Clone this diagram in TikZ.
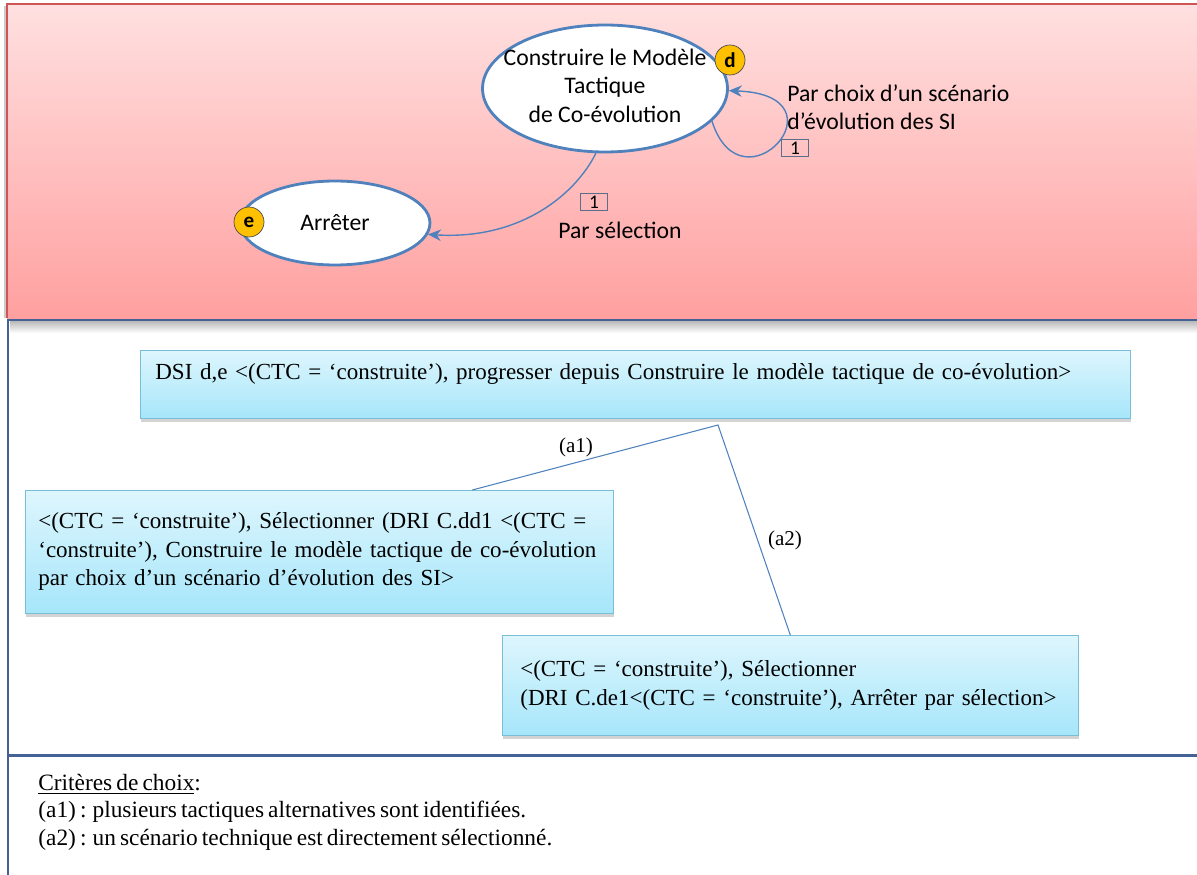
\documentclass[tikz,border=0pt]{standalone}
\usepackage{fontspec}
\setmainfont{Liberation Serif}[WordSpace=0.7]
\newfontfamily\calibri{Carlito}
\usetikzlibrary{shapes.geometric,arrows.meta,shadows,calc}

\definecolor{roseclair}{RGB}{255,224,224}
\definecolor{rosefonce}{RGB}{255,160,160}
\definecolor{rougebord}{RGB}{205,85,85}
\definecolor{bleuregle}{RGB}{68,98,150}
\definecolor{bleuetape}{RGB}{79,129,189}
\definecolor{grisnum}{RGB}{90,110,140}
\definecolor{jaune}{RGB}{255,192,0}
\definecolor{boitehaut}{RGB}{222,246,253}
\definecolor{boitebas}{RGB}{166,230,250}
\definecolor{boitebord}{RGB}{120,190,215}

\begin{document}
\begin{tikzpicture}[
  x=0.02cm, y=-0.02cm,
  etape/.style={ellipse, draw=bleuetape, line width=1.6pt, fill=white, align=center,
    inner sep=0pt, font=\calibri\fontsize{13.5}{16.2}\selectfont},
  pastille/.style={circle, draw=gray!60!black, fill=jaune, minimum size=0.6cm,
    inner sep=0pt, font=\calibri\bfseries\fontsize{12}{13}\selectfont},
  fleche/.style={draw=bleuetape, line width=0.8pt, -{Stealth[length=2.6mm,width=2.3mm]}},
  num/.style={draw=grisnum, line width=0.6pt, minimum width=0.54cm,
    minimum height=0.33cm, inner sep=0pt, font=\calibri\fontsize{11}{12}\selectfont},
  etiq/.style={align=left, inner sep=0pt, font=\calibri\fontsize{13.5}{16.2}\selectfont},
  boite/.style={draw=boitebord, top color=boitehaut, bottom color=boitebas, align=left,
    inner ysep=0pt, font=\fontsize{13.1}{16.2}\selectfont,
    drop shadow={opacity=0.35, shadow xshift=0.5pt, shadow yshift=-2pt}},
  lien/.style={draw=bleuetape, line width=0.6pt},
  branche/.style={inner sep=0pt, font=\fontsize{12}{14}\selectfont},
  critere/.style={align=left, inner sep=0pt, font=\fontsize{13.3}{15.6}\selectfont}
]
\useasboundingbox (0,0) rectangle (1197,875);

% bandeau rose du haut
\shade[top color=roseclair, bottom color=rosefonce] (7,4) rectangle (1197,318);
\draw[gray!40, line width=1pt] (5,6) -- (5,318);
\draw[rougebord, line width=0.6pt] (1197,4) -- (7,4) -- (7,318);

% cadre bleu et son ombre
\shade[top color=gray!55, bottom color=white] (10,321) rectangle (1197,333);
\draw[bleuregle, line width=1.7pt] (8,875) -- (8,320) -- (1197,320);
\draw[bleuregle, line width=1.7pt] (8,755) -- (1197,755);

% etapes et pastilles
\node[etape, minimum width=4.9cm, minimum height=2.54cm] (modele) at (605,88.5)
  {\makebox[3cm]{Construire le Modèle}\\Tactique\\de Co-évolution\\[-12.8pt]};
\node[etape, minimum width=3.8cm, minimum height=1.68cm] (arreter) at (335,223) {Arrêter};
\node[pastille] (pd) at (730,60) {d};
\node[pastille] (pe) at (249,222) {e};

% sections
\draw[fleche] (modele.262) .. controls (575,195) and (520,240) .. (arreter.-7);
\draw[fleche] (modele.-17) .. controls (742,215) and (850,95) .. (modele.-1);
\node[num] (n1) at (594,202) {1};
\node[etiq, anchor=west] (selection) at (558,230) {Par sélection};
\node[num] (n2) at (795,148) {1};
\node[etiq, anchor=west] (choix) at (787,107) {Par choix d’un scénario\\d’évolution des SI};

% arbre des choix (lignes en \mbox : pas de coupure)
\node[boite, anchor=north west, minimum width=19.8cm, minimum height=1.36cm,
  inner xsep=0.3cm, text width=19.2cm, text depth=0.5cm] (dsi) at (140,350)
  {\mbox{DSI d,e <(CTC = ‘construite’), progresser depuis Construire le modèle tactique de co-évolution>}};
\node[boite, anchor=north west, minimum width=11.76cm, minimum height=2.46cm,
  inner xsep=0.26cm, text width=11.24cm] (choixA) at (25,490)
  {\mbox{<(CTC = ‘construite’), Sélectionner (DRI C.dd1 <(CTC =}\\
   \mbox{‘construite’), Construire le modèle tactique de co-évolution}\\
   \mbox{par choix d’un scénario d’évolution des SI>}};
\node[boite, anchor=north west, minimum width=11.52cm, minimum height=2cm,
  inner xsep=0.36cm, text width=10.8cm] (choixB) at (502,635)
  {\mbox{<(CTC = ‘construite’), Sélectionner}\\
   \mbox{(DRI C.de1<(CTC = ‘construite’), Arrêter par sélection>}};

\coordinate (sommet) at (718,425);
\draw[lien] ($(choixA.north west)!0.76!(choixA.north east)$) -- (sommet) -- (choixB.north);
\node[branche] (a1) at (576,447) {(a1)};
\node[branche] (a2) at (785,540) {(a2)};

% criteres
\node[critere, anchor=west] (criteres) at (38,812)
  {\underline{Critères de choix}:\\
   (a1) : plusieurs tactiques alternatives sont identifiées.\\
   (a2) : un scénario technique est directement sélectionné.};
\end{tikzpicture}
\end{document}
